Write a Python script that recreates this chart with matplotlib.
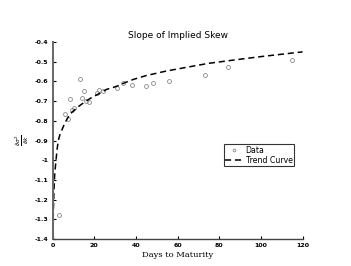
import matplotlib
matplotlib.use("Agg")
import matplotlib.pyplot as plt

# observed slope of implied skew vs days to maturity
days = [3.0, 5.9, 7.3, 8.2, 9.3, 10.4, 13.1, 14.2, 14.9, 16.0, 17.4, 21.2, 22.2,
        24.0, 31.0, 34.0, 37.9, 45.0, 48.0, 56.0, 73.0, 84.0, 115.0]
slope = [-1.28, -0.765, -0.79, -0.69, -0.745, -0.733, -0.586, -0.686, -0.649, -0.698,
         -0.706, -0.66, -0.645, -0.65, -0.633, -0.608, -0.617, -0.622, -0.606,
         -0.596, -0.566, -0.528, -0.49]

# trend curve
trend_x = [0.15, 0.3, 0.5, 0.75, 1.0, 1.6, 2.2, 2.7, 3.5, 4.5, 5.9, 7.0, 8.3, 10.0,
           11.5, 14.0, 16.0, 19.0, 22.7, 26.0, 30.7, 35.0, 38.7, 45.0, 54.7, 65.0,
           75.0, 88.0, 100.0, 110.0, 120.0]
trend_y = [-1.4, -1.27, -1.2, -1.12, -1.07, -1.0, -0.94, -0.9, -0.87, -0.845, -0.81,
           -0.79, -0.765, -0.75, -0.735, -0.715, -0.7, -0.68, -0.66, -0.64, -0.625,
           -0.605, -0.59, -0.57, -0.547, -0.527, -0.508, -0.49, -0.474, -0.462, -0.45]

xticks = [0, 20, 40, 60, 80, 100, 120]
yticks = [-1.4, -1.3, -1.2, -1.1, -1.0, -0.9, -0.8, -0.7, -0.6, -0.5, -0.4]
ytick_labels = ['-1.4', '-1.3', '-1.2', '-1.1', '-1', '-0.9', '-0.8', '-0.7', '-0.6', '-0.5', '-0.4']

fig = plt.figure(figsize=(3.51, 2.66), dpi=100, facecolor='white')
ax = fig.add_axes([0.150, 0.1015, 0.712, 0.7405])

ax.plot(days, slope, 'o', markersize=2.8, markerfacecolor='none',
        markeredgecolor='#888888', markeredgewidth=0.6, label='Data')
ax.plot(trend_x, trend_y, '--', color='black', linewidth=1.1, dashes=(4, 2.5),
        label='Trend Curve')

ax.set_xlim(0, 120)
ax.set_ylim(-1.4, -0.4)
ax.set_xticks(xticks)
ax.set_yticks(yticks)
ax.set_yticklabels(ytick_labels)
ax.tick_params(direction='in', length=2.5, width=0.8, labelsize=4.5, pad=3)
for lab in ax.get_xticklabels() + ax.get_yticklabels():
    lab.set_fontweight('bold')

for side in ['top', 'right']:
    ax.spines[side].set_visible(False)
ax.spines['left'].set_color('#666666')
ax.spines['left'].set_linewidth(1.4)
ax.spines['bottom'].set_color('#444444')
ax.spines['bottom'].set_linewidth(1.0)

ax.set_title('Slope of Implied Skew', fontsize=6.5, pad=3)
ax.set_xlabel('Days to Maturity', fontsize=6, family='DejaVu Serif', labelpad=2)
ax.set_ylabel(r'$\frac{\partial\sigma^2}{\partial k}$', fontsize=6, rotation=90, labelpad=3)

leg = ax.legend(loc='lower left', bbox_to_anchor=(0.685, 0.37), fontsize=5.6,
                frameon=True, fancybox=False, edgecolor='black', handlelength=2.2,
                borderpad=0.2, labelspacing=0.1, handletextpad=0.4, borderaxespad=0,
                markerscale=0.7)
leg.get_frame().set_linewidth(0.8)

fig.savefig('out.png', dpi=100, facecolor='white')
